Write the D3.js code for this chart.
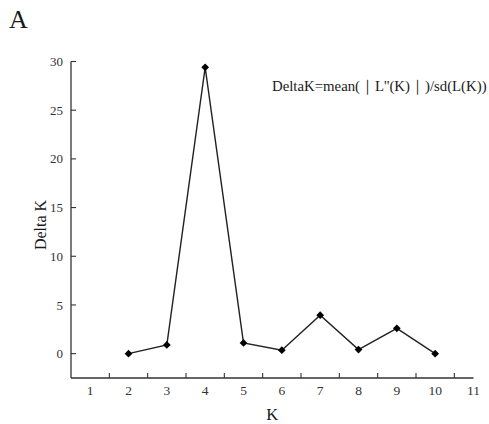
<!DOCTYPE html>
<html>
<head>
<meta charset="utf-8">
<script src="https://cdn.jsdelivr.net/npm/d3@7"></script>
<style>
html,body{margin:0;padding:0;background:#fff;}
svg{display:block;}
</style>
</head>
<body>
<script>
const kValues = [2, 3, 4, 5, 6, 7, 8, 9, 10];
const deltaK = [0, 0.9, 29.4, 1.1, 0.35, 3.95, 0.42, 2.6, 0];
const xLabelValues = [1, 2, 3, 4, 5, 6, 7, 8, 9, 10, 11];
const xTickValues = [1.5, 2.5, 3.5, 4.5, 5.5, 6.5, 7.5, 8.5, 9.5, 10.5];
const yTickValues = [0, 5, 10, 15, 20, 25, 30];
const panelLabel = "A";
const xTitle = "K";
const yTitle = "Delta K";
const formula = "DeltaK=mean(｜L''(K)｜)/sd(L(K))";

const W = 489, H = 424;
const FONT = "'Liberation Serif', 'Times New Roman', serif";
const svg = d3.select("body").append("svg").attr("width", W).attr("height", H)
  .attr("font-family", FONT).style("font-family", FONT);

const x = d3.scaleLinear().domain([0.5, 11]).range([71, 473.5]);
const y = d3.scaleLinear().domain([-2.5, 30]).range([378, 61.5]);
const axisColor = "#333";
const textColor = "#1a1a1a";

// panel label
svg.append("text").attr("x", 9).attr("y", 28).attr("font-size", 26).attr("fill", textColor).text(panelLabel);

// x axis
const gx = svg.append("g").attr("transform", `translate(0,${y(-2.5)})`);
gx.append("line").attr("x1", x(0.5)).attr("x2", x(11)).attr("stroke", axisColor).attr("stroke-width", 1.3);
gx.selectAll(".xt").data(xTickValues).join("line")
  .attr("x1", d => x(d)).attr("x2", d => x(d)).attr("y1", 0).attr("y2", -5)
  .attr("stroke", axisColor).attr("stroke-width", 1.1);
gx.selectAll(".xl").data(xLabelValues).join("text")
  .attr("x", d => x(d)).attr("y", 17).attr("text-anchor", "middle").attr("font-size", 13.5)
  .attr("fill", "#333").text(d => d);

// y axis
const gy = svg.append("g").attr("transform", `translate(${x(0.5)},0)`);
gy.append("line").attr("y1", y(-2.5)).attr("y2", y(30)).attr("stroke", axisColor).attr("stroke-width", 1.3);
gy.selectAll(".yt").data(yTickValues).join("line")
  .attr("x1", 0).attr("x2", 5).attr("y1", d => y(d)).attr("y2", d => y(d))
  .attr("stroke", axisColor).attr("stroke-width", 1.1);
gy.selectAll(".yl").data(yTickValues).join("text")
  .attr("x", -8).attr("y", d => y(d)).attr("dy", "0.35em").attr("text-anchor", "end").attr("font-size", 13)
  .attr("fill", "#333").text(d => d);

// titles
svg.append("text").attr("x", x(5.75)).attr("y", 420).attr("text-anchor", "middle").attr("font-size", 16.5)
  .attr("fill", textColor).text(xTitle);
svg.append("text").attr("transform", `translate(46,225) rotate(-90)`).attr("text-anchor", "middle").attr("font-size", 16)
  .attr("fill", textColor).text(yTitle);

// formula
svg.append("text").attr("x", 272).attr("y", 91).attr("font-size", 14.8).attr("fill", textColor).text(formula);

// line
const data = kValues.map((k, i) => ({k, v: deltaK[i]}));
svg.append("path").datum(data)
  .attr("d", d3.line().x(d => x(d.k)).y(d => y(d.v)))
  .attr("fill", "none").attr("stroke", "#222").attr("stroke-width", 1.4);

// markers
svg.selectAll(".pt").data(data).join("path")
  .attr("d", d3.symbol().type(d3.symbolSquare).size(30))
  .attr("transform", d => `translate(${x(d.k)},${y(d.v)}) rotate(45)`)
  .attr("fill", "#000");
</script>
</body>
</html>
